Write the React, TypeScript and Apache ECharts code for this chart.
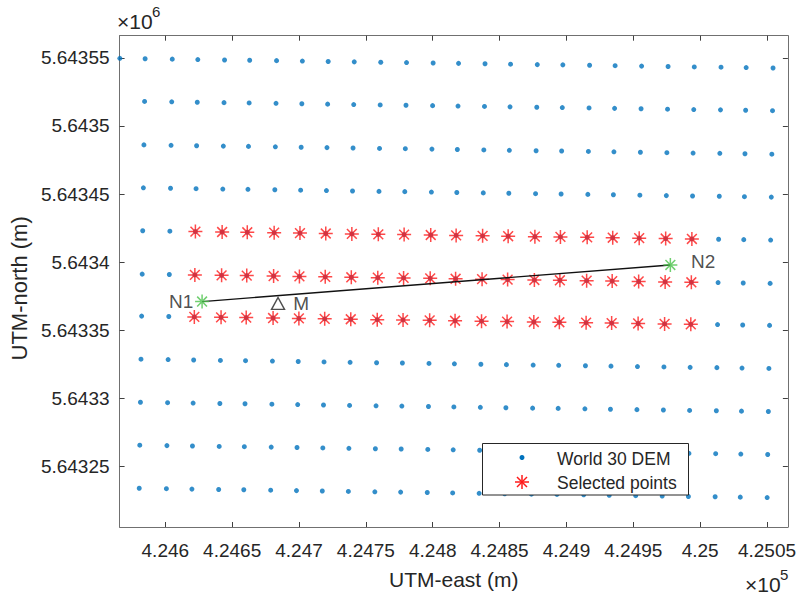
import React, { useEffect, useRef } from "react";
import * as echarts from "echarts";

// DEM grid: column eastings (top row), northing drift per column,
// row northings (at column 1) and easting drift per row (grid is slightly rotated)
const colEast = [
  424566.0, 424584.9, 424605.2, 424624.3, 424644.3, 424663.1, 424683.2, 424702.5,
  424721.8, 424741.3, 424761.1, 424780.4, 424800.3, 424819.3, 424839.1, 424858.2,
  424878.2, 424897.3, 424917.3, 424936.4, 424956.2, 424976.0, 424995.6, 425015.6,
  425034.4, 425054.5,
];
const colNorthOffset = [
  0.3, 0, -0.3, -0.6, -0.9, -1.1, -1.4, -1.7, -2.0, -2.3, -2.6, -2.8, -3.1, -3.4,
  -3.7, -4.0, -4.3, -4.5, -4.8, -5.1, -5.4, -5.7, -6.0, -6.2, -6.5, -6.8,
];
const rowNorth = [
  5643549.3, 5643518.0, 5643486.1, 5643454.6, 5643423.1, 5643391.3, 5643360.5,
  5643328.9, 5643297.3, 5643265.8, 5643234.2,
];
const rowEastShift = [0, -0.4, -0.9, -1.3, -1.8, -2.2, -2.6, -3.1, -3.5, -4.0, -4.4];

// selected DEM points (row / column indices of the grid)
const selectedRows = [4, 5, 6];
const selectedCols = [3, 4, 5, 6, 7, 8, 9, 10, 11, 12, 13, 14, 15, 16, 17, 18, 19, 20, 21, 22];

// profile end points and M
const endNames = ["N1", "N2"];
const endEast = [424627.5, 424977.7];
const endNorth = [5643371.2, 5643398.0];
const midName = "M";
const midEast = 424684.3;
const midNorth = 5643369.8;

// axes
const xRange = [424565.8, 425065.6];
const yRange = [5643205.8, 5643566.2];
const xTickValues = [424600, 424650, 424700, 424750, 424800, 424850, 424900, 424950, 425000, 425050];
const xTickLabels = ["4.246", "4.2465", "4.247", "4.2475", "4.248", "4.2485", "4.249", "4.2495", "4.25", "4.2505"];
const yTickValues = [5643250, 5643300, 5643350, 5643400, 5643450, 5643500, 5643550];
const yTickLabels = ["5.64325", "5.6433", "5.64335", "5.6434", "5.64345", "5.6435", "5.64355"];

const FONT = '"Liberation Sans", Arial, Helvetica, sans-serif';
const TXT = "#262626";
const AXIS = "#707070";
const TICK = "#404040";
const BLUE = "#0072BD";
const RED = "#ff1a1a";
const GREEN = "#4cc34c";
const STAR = "path://M0,-10L0,10M-10,0L10,0M-7,-7L7,7M-7,7L7,-7";

function gridPoint(r: number, c: number): number[] {
  return [colEast[c] + rowEastShift[r], rowNorth[r] + colNorthOffset[c]];
}

export default function App() {
  const ref = useRef<HTMLDivElement>(null);
  useEffect(() => {
    if (!ref.current) return;
    const chart = echarts.init(ref.current, null, { renderer: "svg" });

    const demData: number[][] = [];
    for (let r = 0; r < rowNorth.length; r++)
      for (let c = 0; c < colEast.length; c++) demData.push(gridPoint(r, c));
    const selData: number[][] = [];
    for (const r of selectedRows) for (const c of selectedCols) selData.push(gridPoint(r, c));

    const xFmt = (v: number) => {
      const i = xTickValues.indexOf(v);
      return i >= 0 ? xTickLabels[i] : "";
    };
    const yFmt = (v: number) => {
      const i = yTickValues.indexOf(v);
      return i >= 0 ? yTickLabels[i] : "";
    };

    const xBase = {
      type: "value" as const,
      min: xRange[0],
      max: xRange[1],
      splitLine: { show: false },
      axisLine: { onZero: false, lineStyle: { color: AXIS, width: 1 } },
      axisTick: { inside: true, length: 5, customValues: xTickValues, lineStyle: { color: TICK } },
    };
    const yBase = {
      type: "value" as const,
      min: yRange[0],
      max: yRange[1],
      splitLine: { show: false },
      axisLine: { onZero: false, lineStyle: { color: AXIS, width: 1 } },
      axisTick: { inside: true, length: 5, customValues: yTickValues, lineStyle: { color: TICK } },
    };

    const lx = 522;
    const sy = 482;
    const s = 7;
    const d = 5;

    chart.setOption({
      animation: false,
      textStyle: { fontFamily: FONT },
      grid: { left: 117, top: 35.7, width: 673, height: 495 },
      xAxis: [
        {
          ...xBase,
          position: "bottom",
          axisLabel: { customValues: xTickValues, formatter: xFmt, fontSize: 19, color: TXT, margin: 14, fontFamily: FONT },
          name: "UTM-east (m)",
          nameLocation: "middle",
          nameGap: 42,
          nameTextStyle: { fontSize: 21, color: TXT, fontFamily: FONT },
        },
        { ...xBase, position: "top", axisLabel: { show: false } },
      ],
      yAxis: [
        {
          ...yBase,
          position: "left",
          axisLabel: { customValues: yTickValues, formatter: yFmt, fontSize: 19, color: TXT, margin: 10, fontFamily: FONT },
          name: "UTM-north (m)",
          nameLocation: "middle",
          nameGap: 88,
          nameTextStyle: { fontSize: 22, color: TXT, fontFamily: FONT, padding: [0, 14, 0, 0] },
        },
        { ...yBase, position: "right", axisLabel: { show: false } },
      ],
      series: [
        {
          name: "World 30 DEM",
          type: "scatter",
          clip: true,
          symbol: "circle",
          symbolSize: 5,
          itemStyle: { color: BLUE },
          data: demData,
          z: 2,
        },
        {
          name: "Selected points",
          type: "scatter",
          clip: true,
          symbol: STAR,
          symbolSize: 14,
          itemStyle: { color: RED, borderColor: RED, borderWidth: 1.5 },
          data: selData,
          z: 3,
        },
        {
          name: "profile",
          type: "line",
          symbol: "none",
          lineStyle: { color: "#111", width: 1.3 },
          data: [
            [endEast[0], endNorth[0]],
            [endEast[1], endNorth[1]],
          ],
          z: 4,
        },
        {
          name: "ends",
          type: "scatter",
          symbol: STAR,
          symbolSize: 14,
          itemStyle: { color: GREEN, borderColor: GREEN, borderWidth: 1.5 },
          label: { show: true, formatter: "{b}", fontSize: 19, color: "#222", fontFamily: FONT },
          data: [
            { name: endNames[0], value: [endEast[0], endNorth[0]], label: { position: "left", distance: 1 } },
            { name: endNames[1], value: [endEast[1], endNorth[1]], label: { position: "right", distance: 13, offset: [0, -3] } },
          ],
          z: 5,
        },
        {
          name: "mid",
          type: "scatter",
          symbol: "triangle",
          symbolSize: [13, 12],
          itemStyle: { color: "rgba(0,0,0,0)", borderColor: "#222", borderWidth: 1.4 },
          label: { show: true, formatter: "{b}", position: "right", distance: 8, fontSize: 19, color: "#222", fontFamily: FONT },
          data: [{ name: midName, value: [midEast, midNorth] }],
          z: 5,
        },
      ],
      graphic: [
        { type: "text", left: 117, top: 11, z: 100, style: { text: "×10", fontSize: 21, fill: TXT, fontFamily: FONT } },
        { type: "text", left: 152, top: 4, z: 100, style: { text: "6", fontSize: 15, fill: TXT, fontFamily: FONT } },
        { type: "text", left: 745, top: 574, z: 100, style: { text: "×10", fontSize: 21, fill: TXT, fontFamily: FONT } },
        { type: "text", left: 780, top: 567, z: 100, style: { text: "5", fontSize: 15, fill: TXT, fontFamily: FONT } },
        {
          type: "group",
          z: 100,
          children: [
            {
              type: "rect",
              z: 100,
              shape: { x: 482.5, y: 443.5, width: 206, height: 51.5 },
              style: { fill: "#fff", stroke: "#262626", lineWidth: 1 },
            },
            { type: "circle", z: 101, shape: { cx: lx, cy: 457.5, r: 2.5 }, style: { fill: BLUE } },
            { type: "line", z: 101, shape: { x1: lx, y1: sy - s, x2: lx, y2: sy + s }, style: { stroke: RED, lineWidth: 1.5 } },
            { type: "line", z: 101, shape: { x1: lx - s, y1: sy, x2: lx + s, y2: sy }, style: { stroke: RED, lineWidth: 1.5 } },
            { type: "line", z: 101, shape: { x1: lx - d, y1: sy - d, x2: lx + d, y2: sy + d }, style: { stroke: RED, lineWidth: 1.5 } },
            { type: "line", z: 101, shape: { x1: lx - d, y1: sy + d, x2: lx + d, y2: sy - d }, style: { stroke: RED, lineWidth: 1.5 } },
            {
              type: "text",
              z: 101,
              x: 557,
              y: 459,
              style: { text: "World 30 DEM", fontSize: 17.5, fill: TXT, fontFamily: FONT, verticalAlign: "middle" },
            },
            {
              type: "text",
              z: 101,
              x: 557,
              y: 483,
              style: { text: "Selected points", fontSize: 17.5, fill: TXT, fontFamily: FONT, verticalAlign: "middle" },
            },
          ],
        },
      ],
    });
    return () => chart.dispose();
  }, []);
  return <div ref={ref} style={{ position: "fixed", left: 0, top: 0, width: 799, height: 595, background: "#fff" }} />;
}
